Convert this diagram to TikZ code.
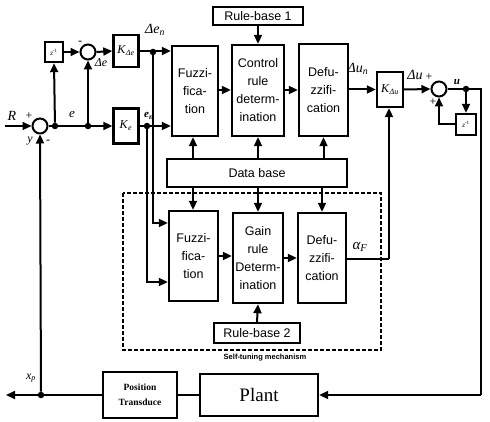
\documentclass[tikz,border=0pt]{standalone}
\usepackage{fontspec}
\setmainfont{Liberation Serif}
\setsansfont{Liberation Sans}
\usetikzlibrary{arrows.meta,calc}
\begin{document}
\begin{tikzpicture}[x=1pt,y=-1pt,
  blk/.style={draw,line width=2.4pt,font=\sffamily\fontsize{12.5}{18}\selectfont,align=center,inner sep=0pt},
  gain/.style={draw,line width=2.4pt,inner sep=0pt,font=\fontsize{12}{14}\selectfont},
  sumc/.style={circle,draw,line width=2pt,minimum size=15pt,inner sep=0pt},
  jdot/.style={circle,fill,inner sep=0pt,minimum size=6.5pt},
  arr/.style={-{Triangle[length=9pt,width=8pt]},line width=2pt},
  ln/.style={line width=2pt},
  lab/.style={font=\fontsize{12}{14}\selectfont,inner sep=0pt}]
\useasboundingbox (0,0) rectangle (490,422);

% top row
\node[gain,minimum width=18pt,minimum height=20pt] (z1) at (54,52) {\fontsize{7}{8}\selectfont\textit{z}\textsuperscript{-1}};
\node[sumc] (s2) at (88,52) {};
\node[gain,minimum width=25pt,minimum height=32pt] (kde) at (126,51) {\textit{K}\textsubscript{\textit{Δe}}};
\node[blk,minimum width=46pt,minimum height=90pt] (fz1) at (195,91) {Fuzzi-\\fica-\\tion};
\node[blk,minimum width=52pt,minimum height=91pt] (cr) at (258,90.5) {Control\\rule\\determ-\\ination};
\node[blk,minimum width=49pt,minimum height=92pt] (df1) at (323.5,90) {Defu-\\zzifi-\\cation};
\node[blk,minimum width=90pt,minimum height=18pt] (rb1) at (258,16) {Rule-base 1};
\node[gain,minimum width=26pt,minimum height=35pt] (kdu) at (390,89.5) {\textit{K}\textsubscript{\textit{Δu}}};
\node[sumc] (s3) at (439,89) {};
\node[gain,minimum width=20pt,minimum height=21pt] (z2) at (466,124.5) {\fontsize{7}{8}\selectfont\textit{z}\textsuperscript{-1}};

% e row
\node[sumc] (s1) at (40,126) {};
\node[gain,minimum width=25pt,minimum height=35pt] (ke) at (126,126) {\textit{K}\textsubscript{\textit{e}}};

% data base and self-tuning
\node[blk,minimum width=180pt,minimum height=28pt] (db) at (257,173) {Data base};
\node[blk,minimum width=49pt,minimum height=90pt] (fz2) at (193.5,256) {Fuzzi-\\fica-\\tion};
\node[blk,minimum width=50pt,minimum height=90pt] (gr) at (258,258) {Gain\\rule\\Determ-\\ination};
\node[blk,minimum width=48pt,minimum height=90pt] (df2) at (322,258) {Defu-\\zzifi-\\cation};
\node[blk,minimum width=86pt,minimum height=20pt] (rb2) at (257,333) {Rule-base 2};
\draw[line width=2pt,dash pattern=on 4pt off 2pt] (123,193) rectangle (381,350);
\node[font=\sffamily\bfseries\fontsize{7.5}{9}\selectfont,inner sep=0pt] (stm) at (265,358) {Self-tuning mechanism};

% bottom row
\node[blk,font=\bfseries\fontsize{9.5}{15}\selectfont,minimum width=74pt,minimum height=46pt] (pt) at (140,395) {Position\\Transduce};
\node[blk,font=\fontsize{19}{20}\selectfont,minimum width=118pt,minimum height=42pt] (plant) at (259,395) {Plant};

% junction dots
\node[jdot] (de1) at (55,126) {};
\node[jdot] (de2) at (88,126) {};
\node[jdot] (den) at (147,126) {};
\node[jdot] (dden) at (153,52) {};
\node[jdot] (du) at (466,89) {};
\node[jdot] (dxp) at (41,395) {};
\coordinate (rin) at (5,126);
\coordinate (xout) at (6,395);
\coordinate (ur) at (481,89);
\coordinate (ub) at (481,395);
\coordinate (af) at (389,259);

% connectors
\draw[arr] (rin) -- (s1.west);
\draw[arr] (s1.east) -- (ke.west);
\draw[arr] (de1) -- (z1.south);
\draw[arr] (z1.east) -- (s2.west);
\draw[arr] (de2) -- (s2.south);
\draw[arr] (s2.east) -- (kde.west);
\draw[arr] (kde.east) -- (kde.east -| fz1.west);
\draw[arr] (ke.east) -- (ke.east -| fz1.west);
\draw[arr] (fz1.east |- 0,90) -- (cr.west |- 0,90);
\draw[arr] (cr.east |- 0,90) -- (df1.west |- 0,90);
\draw[arr] (df1.east |- 0,89.5) -- (kdu.west);
\draw[arr] (kdu.east) -- (s3.west);
\draw[ln] (s3.east) -- (du) -- (ur) -- (ub);
\draw[arr] (ub) -- (plant.east);
\draw[arr] (du) -- (z2.north);
\draw[arr] (z2.west) -| (s3.south);
\draw[arr] (rb1.south) -- (cr.north);
\draw[arr] (db.north -| 193,0) -- (fz1.south -| 193,0);
\draw[arr] (db.north -| cr) -- (cr.south);
\draw[arr] (db.north -| df1) -- (df1.south);
\draw[arr] (db.south -| 193,0) -- (fz2.north -| 193,0);
\draw[arr] (db.south -| gr) -- (gr.north);
\draw[arr] (db.south -| df2) -- (df2.north);
\draw[arr] (dden) -- (153,223) -- (fz2.west |- 0,223);
\draw[arr] (den) -- (147,282) -- (fz2.west |- 0,282);
\draw[arr] (fz2.east |- 0,256) -- (gr.west |- 0,256);
\draw[arr] (gr.east |- 0,258) -- (df2.west |- 0,258);
\draw[arr] (rb2.north) -- (gr.south);
\draw[ln] (df2.east |- af) -- (af);
\draw[arr] (af) -- (kdu.south -| af);
\draw[ln] (plant.west) -- (pt.east);
\draw[ln] (pt.west) -- (dxp);
\draw[arr] (dxp) -- (xout);
\draw[arr] (dxp) -- (s1.south);

% labels
\node[lab,font=\itshape\fontsize{14}{16}\selectfont] at (12,116) {R};
\node[lab] at (29,116) {+};
\node[lab,font=\itshape\fontsize{12}{14}\selectfont] at (30,141) {y};
\node[lab] at (48,142) {-};
\node[lab] at (80,43) {-};
\node[lab,font=\itshape\fontsize{12}{14}\selectfont] at (101,63) {Δe};
\node[lab,font=\itshape\fontsize{13}{14}\selectfont] at (72,115) {e};
\node[lab,font=\itshape\fontsize{14}{16}\selectfont] at (155,30) {Δe\textsubscript{n}};
\node[lab,font=\bfseries\itshape\fontsize{11}{12}\selectfont] at (149,116) {e\textsubscript{n}};
\node[lab,font=\itshape\fontsize{14}{16}\selectfont] at (358,69) {Δu\textsubscript{n}};
\node[lab,font=\itshape\fontsize{14}{16}\selectfont] at (415,75) {Δu};
\node[lab] at (429,77) {+};
\node[lab] at (433,102) {+};
\node[lab,font=\bfseries\itshape\fontsize{11}{12}\selectfont] at (457,82) {u};
\node[lab,font=\itshape\fontsize{15}{16}\selectfont] at (360,247) {α\textsubscript{F}};
\node[lab,font=\itshape\fontsize{12}{14}\selectfont] at (31,378) {x\textsubscript{p}};
\end{tikzpicture}
\end{document}
